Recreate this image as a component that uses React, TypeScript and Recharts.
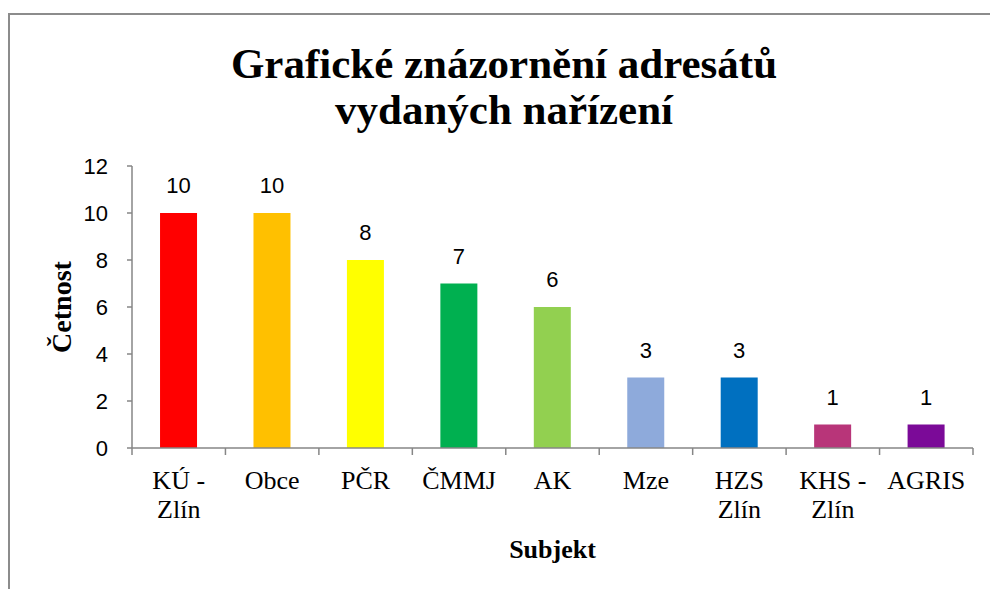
import { Bar, BarChart, Cell, LabelList, XAxis, YAxis } from "recharts";

const categories = ["KÚ - Zlín", "Obce", "PČR", "ČMMJ", "AK", "Mze", "HZS Zlín", "KHS - Zlín", "AGRIS"];
const counts = [10, 10, 8, 7, 6, 3, 3, 1, 1];
const barColors = ["#ff0000", "#ffc000", "#ffff00", "#00b050", "#92d050", "#8eaadb", "#0070c0", "#b83579", "#7b0a98"];
const yTicks = [0, 2, 4, 6, 8, 10, 12];
const titleLines = ["Grafické znázornění adresátů", "vydaných nařízení"];

const data = categories.map((name, i) => ({ name, count: counts[i] }));

const W = 990;
const H = 589;
const margin = { top: 166, right: 17, bottom: 0, left: 0 };
const axisY = 448;
const yAxisWidth = 132;
const plotWidth = W - margin.left - margin.right - yAxisWidth;
const band = plotWidth / categories.length;
const axisGray = "#868686";
const serif = "'Liberation Serif', 'Times New Roman', serif";
const sans = "'Liberation Sans', Arial, sans-serif";

function CategoryTick(props: any) {
  const { x, y, payload, index } = props;
  const lines = String(payload.value).replace(" Zlín", "\nZlín").split("\n");
  const last = index === categories.length - 1;
  return (
    <g>
      <line x1={x - band / 2} x2={x - band / 2} y1={y} y2={y + 7} stroke={axisGray} strokeWidth={1.5} />
      {last && <line x1={x + band / 2} x2={x + band / 2} y1={y} y2={y + 7} stroke={axisGray} strokeWidth={1.5} />}
      <text x={x} y={y + 41} textAnchor="middle" fontFamily={serif} fontSize={26} fill="#000">
        {lines.map((line, i) => (
          <tspan key={i} x={x} dy={i === 0 ? 0 : 29}>{line}</tspan>
        ))}
      </text>
    </g>
  );
}

export default function App() {
  return (
    <div style={{ position: "absolute", left: 0, top: 0, width: W, height: H, overflow: "hidden", background: "#fff" }}>
      <div style={{ position: "absolute", left: 8, top: 13, width: 1100, height: 700, borderLeft: "2px solid #8c8c8c", borderTop: "2px solid #8c8c8c" }} />
      <svg width={W} height={140} style={{ position: "absolute", left: 0, top: 0 }}>
        {titleLines.map((line, i) => (
          <text key={line} x={504} y={78 + i * 46} textAnchor="middle" fontFamily={serif} fontWeight="bold" fontSize={43} fill="#000">
            {line}
          </text>
        ))}
      </svg>
      <div style={{ position: "absolute", left: 0, top: 0 }}>
        <BarChart width={W} height={H} data={data} margin={margin} barCategoryGap="30%">
          <XAxis
            dataKey="name"
            height={H - axisY}
            interval={0}
            tickLine={false}
            tickSize={0}
            tickMargin={0}
            axisLine={{ stroke: axisGray, strokeWidth: 1.5 }}
            tick={<CategoryTick />}
            label={{
              value: "Subjekt",
              content: ({ viewBox }: any) => (
                <text x={viewBox.x + viewBox.width / 2} y={viewBox.y + 110} textAnchor="middle" fontFamily={serif} fontWeight="bold" fontSize={26} fill="#000">
                  Subjekt
                </text>
              ),
            }}
          />
          <YAxis
            width={yAxisWidth}
            domain={[0, 12]}
            ticks={yTicks}
            interval={0}
            tickSize={5}
            tickMargin={19}
            axisLine={{ stroke: axisGray, strokeWidth: 1.5 }}
            tickLine={{ stroke: axisGray, strokeWidth: 1.5 }}
            tick={{ fill: "#000", fontSize: 22, fontFamily: sans }}
            label={{
              value: "Četnost",
              content: ({ viewBox }: any) => {
                const cx = viewBox.x + 71;
                const cy = viewBox.y + viewBox.height / 2;
                return (
                  <text x={cx} y={cy} transform={`rotate(-90, ${cx}, ${cy})`} textAnchor="middle" fontFamily={serif} fontWeight="bold" fontSize={28} fill="#000">
                    Četnost
                  </text>
                );
              },
            }}
          />
          <Bar dataKey="count" isAnimationActive={false}>
            {data.map((d, i) => (
              <Cell key={d.name} fill={barColors[i]} />
            ))}
            <LabelList dataKey="count" position="top" offset={20} fill="#000" fontSize={22} fontFamily={sans} />
          </Bar>
        </BarChart>
      </div>
    </div>
  );
}
